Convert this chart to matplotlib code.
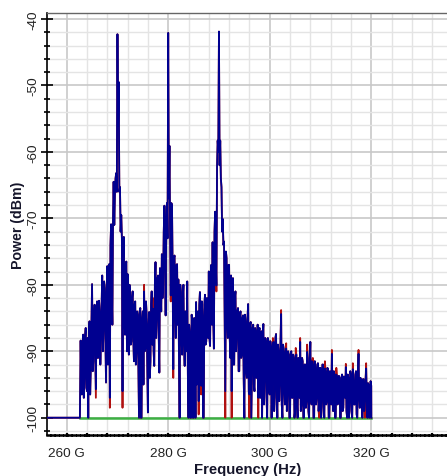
import numpy as np
import matplotlib.pyplot as plt
from matplotlib.ticker import MultipleLocator, FuncFormatter

plt.rcParams['font.family'] = ['Liberation Sans', 'DejaVu Sans']
plt.rcParams['axes.unicode_minus'] = False

# spectrum samples (dBm), 0.125 GHz apart, first one at 262.75 GHz
f_start = 262.75
f_step = 0.125
power_blue = [
    -88.4, -95.0,
    -96.5, -88.8, -87.5, -97.0, -94.0, -87.8, -86.5, -95.5,    # 263
    -96.0, -88.0, -100.0, -87.0, -85.5, -96.5, -92.5, -86.0,   # 264
    -79.9, -93.0, -91.5, -84.6, -83.0, -90.5, -95.7, -84.0,    # 265
    -82.5, -91.0, -89.6, -82.4, -84.0, -92.0, -88.0, -83.0,    # 266
    -78.6, -90.0, -87.0, -79.5, -80.5, -88.0, -94.7, -81.0,    # 267
    -77.2, -92.0, -86.0, -76.9, -97.0, -74.0, -70.9, -80.5,    # 268
    -86.0, -70.5, -64.5, -71.0, -66.5, -64.0, -63.2, -66.0,    # 269
    -42.3, -56.0, -49.5, -66.0, -65.3, -72.0, -69.5, -73.0,    # 270
    -96.0, -76.0, -72.8, -85.0, -87.5, -77.0, -76.5, -90.0,    # 271
    -78.4, -86.0, -90.5, -80.0, -81.5, -89.0, -88.5, -82.0,    # 272
    -81.0, -88.0, -91.5, -83.0, -82.5, -92.0, -90.0, -84.0,    # 273
    -84.5, -92.0, -100.0, -84.0, -83.5, -100.0, -100.0, -85.0, # 274
    -84.0, -95.0, -81.0, -90.0, -89.5, -82.5, -84.5, -92.0,    # 275
    -99.2, -86.0, -84.1, -94.0, -91.6, -83.0, -81.0, -89.0,    # 276
    -83.6, -90.0, -92.2, -80.0, -76.6, -88.0, -85.0, -79.0,    # 277
    -78.6, -87.0, -93.2, -77.5, -79.5, -84.0, -75.4, -82.0,    # 278
    -80.1, -72.0, -68.1, -77.0, -84.6, -70.0, -67.7, -73.0,    # 279
    -42.1, -67.0, -59.1, -72.0, -81.6, -67.7, -68.1, -78.0,    # 280
    -92.7, -76.0, -75.6, -84.0, -88.0, -77.0, -76.9, -86.0,    # 281
    -79.2, -91.0, -100.0, -80.0, -81.1, -88.0, -90.5, -82.0,   # 282
    -80.0, -89.0, -92.2, -84.0, -85.8, -90.0, -79.5, -93.6,    # 283
    -100.0, -86.0, -87.0, -100.0, -100.0, -84.5, -86.1, -100.0, # 284
    -100.0, -85.0, -88.0, -100.0, -82.6, -95.0, -87.1, -84.0,  # 285
    -97.5, -83.0, -81.1, -92.0, -95.2, -82.5, -84.6, -100.0,   # 286
    -100.0, -83.0, -81.5, -89.0, -88.5, -82.0, -83.1, -88.0,   # 287
    -78.0, -88.0, -89.2, -79.0, -77.0, -86.0, -73.6, -85.0,    # 288
    -89.6, -72.0, -69.0, -76.0, -80.1, -62.3, -58.3, -60.0,    # 289
    -41.9, -62.0, -58.3, -64.0, -65.3, -72.0, -70.1, -74.0,    # 290
    -73.5, -85.0, -96.0, -75.0, -76.0, -86.0, -88.0, -77.0,    # 291
    -77.0, -88.0, -91.0, -78.6, -96.0, -80.0, -79.0, -92.0,    # 292
    -92.0, -82.0, -81.0, -90.0, -87.0, -84.0, -83.5, -93.0,    # 293
    -93.0, -84.5, -84.0, -91.0, -90.5, -85.0, -84.6, -94.0,    # 294
    -100.0, -84.5, -85.5, -93.0, -94.0, -85.0, -82.9, -96.0,   # 295
    -96.5, -86.0, -85.6, -100.0, -93.0, -86.5, -86.0, -95.0,   # 296
    -96.0, -86.5, -87.1, -94.0, -91.5, -86.0, -97.0, -87.0,    # 297
    -86.5, -97.0, -95.0, -87.0, -100.0, -87.5, -85.9, -98.0,   # 298
    -94.0, -88.0, -88.5, -97.0, -100.0, -88.0, -88.6, -96.0,   # 299
    -96.5, -88.5, -89.5, -100.0, -93.5, -89.0, -88.6, -99.0,   # 300
    -97.0, -88.0, -87.4, -96.0, -100.0, -89.0, -90.0, -97.5,   # 301
    -95.0, -88.5, -84.4, -98.0, -100.0, -89.0, -89.6, -96.0,   # 302
    -98.0, -90.0, -89.6, -99.0, -96.0, -90.0, -90.5, -100.0,   # 303
    -100.0, -90.5, -90.0, -97.0, -97.0, -90.5, -91.0, -100.0,  # 304
    -99.0, -91.0, -90.5, -98.0, -100.0, -91.0, -91.5, -97.0,   # 305
    -88.6, -99.0, -98.0, -91.0, -91.5, -100.0, -100.0, -92.0,  # 306
    -92.0, -98.5, -97.5, -90.1, -91.0, -99.0, -100.0, -92.0,   # 307
    -88.6, -97.0, -98.0, -91.5, -92.0, -100.0, -100.0, -91.5,  # 308
    -92.5, -98.0, -97.0, -92.0, -91.8, -99.0, -97.5, -92.5,    # 309
    -92.5, -100.0, -98.5, -92.0, -92.0, -97.5, -100.0, -92.6,  # 310
    -93.0, -98.0, -97.5, -92.5, -92.8, -100.0, -100.0, -93.0,  # 311
    -93.5, -98.0, -90.4, -97.0, -99.0, -93.0, -93.5, -100.0,   # 312
    -100.0, -93.5, -93.8, -98.0, -97.5, -93.7, -94.0, -100.0,  # 313
    -100.0, -94.0, -93.5, -99.0, -98.5, -93.8, -94.2, -97.0,   # 314
    -92.4, -99.0, -100.0, -93.5, -94.0, -100.0, -97.5, -93.0,  # 315
    -93.5, -99.0, -100.0, -92.7, -94.5, -98.0, -98.0, -93.5,   # 316
    -93.0, -99.5, -100.0, -93.5, -90.4, -97.0, -98.5, -94.0,   # 317
    -94.5, -98.0, -100.0, -94.2, -94.2, -99.0, -98.0, -94.5,   # 318
    -92.6, -97.5, -100.0, -94.8, -95.0, -100.0, -97.5, -94.5,  # 319
    -95.2,
]

# floor before the signal and the drop at its end
lead_freqs = [250.0, 262.6]
lead_power = [-100.0, -100.0]
tail_freqs = [320.02]
tail_power = [-100.0]

# where the red trace pokes out from under the blue one
red_freqs = [265.75, 266.25, 268.5, 271.0, 275.25, 277.0, 280.5, 281.0, 286.0, 286.5,
             289.5, 291.25, 292.5, 296.0, 297.75, 302.25, 306.0, 309.75, 312.25, 314.75,
             315.0, 317.5, 318.75, 300.625, 303.25, 305.125, 307.375, 308.5, 310.875,
             313.125, 316.375, 319.0]
red_power = [-97.0, -91.0, -98.5, -98.5, -80.0, -82.0, -82.5, -94.0, -99.5, -96.5,
             -81.0, -100.0, -100.0, -100.0, -100.0, -83.8, -88.0, -100.0, -89.8, -95.5,
             -91.9, -89.8, -100.0, -88.0, -88.8, -89.5, -89.0, -91.0, -91.5,
             -92.5, -91.8, -91.8]

green_freqs = [262.6, 320.0]
green_power = [-100.0, -100.0]

freqs = f_start + f_step * np.arange(len(power_blue))
blue = np.array(power_blue)
red = blue.copy()
for fr, pw in zip(red_freqs, red_power):
    red[np.argmin(np.abs(freqs - fr))] = pw

fx = np.concatenate([lead_freqs, freqs, tail_freqs])
by = np.concatenate([lead_power, blue, tail_power])
ry = np.concatenate([lead_power, red, tail_power])

W, H = 447, 477
fig = plt.figure(figsize=(W / 100, H / 100), dpi=100, facecolor='white')
ax = fig.add_axes([47.3 / W, 41 / H, (457 - 47.3) / W, (436 - 14) / H])

ax.plot(green_freqs, green_power, color='#3cb043', lw=1.8, zorder=3)
ax.plot(fx, ry, color='#b01010', lw=1.3, zorder=4)
ax.plot(fx, by, color='#000090', lw=1.3, zorder=5)

ax.set_xlim(256.18, 336.9)
ax.set_ylim(-102.6, -39.1)

ax.xaxis.set_major_locator(MultipleLocator(20))
ax.xaxis.set_minor_locator(MultipleLocator(4))
ax.yaxis.set_major_locator(MultipleLocator(10))
ax.yaxis.set_minor_locator(MultipleLocator(2))
ax.xaxis.set_major_formatter(FuncFormatter(lambda v, p: f"{v:.0f} G"))

ax.grid(which='major', color='#c8c8c8', lw=1.2, zorder=0)
ax.grid(which='minor', color='#e4e4e4', lw=1.0, zorder=0)
ax.set_axisbelow(True)

ax.spines['right'].set_visible(False)
ax.spines['left'].set_color('black')
ax.spines['left'].set_linewidth(1.2)
ax.spines['top'].set_color('#666666')
ax.spines['top'].set_linestyle((0, (1, 1)))
ax.spines['top'].set_linewidth(1.0)
ax.spines['bottom'].set_color('black')
ax.spines['bottom'].set_linestyle((0, (1, 0.7)))
ax.spines['bottom'].set_linewidth(1.8)

ax.tick_params(axis='y', which='major', direction='inout', length=8, width=1.2,
               color='black', labelsize=9.7, labelcolor='#222222', pad=1.5,
               labelrotation=90)
ax.tick_params(axis='y', which='minor', direction='inout', length=4.5, width=1.2,
               color='black')
ax.tick_params(axis='x', which='both', direction='inout', length=3, width=1.6,
               color='black')
ax.tick_params(axis='x', which='major', labelsize=9.7, labelcolor='#222222', pad=7)
for lab in ax.get_yticklabels():
    lab.set_va('center')

fig.text(248 / W, 1 - 470 / H, "Frequency (Hz)", ha='center', va='center',
         fontsize=10.7, fontweight='bold', color='#15152a')
fig.text(18 / W, 1 - 225 / H, "Power (dBm)", ha='center', va='center',
         rotation=90, fontsize=10.2, fontweight='bold', color='#15152a')

fig.savefig("out.png", dpi=100, facecolor='white')
